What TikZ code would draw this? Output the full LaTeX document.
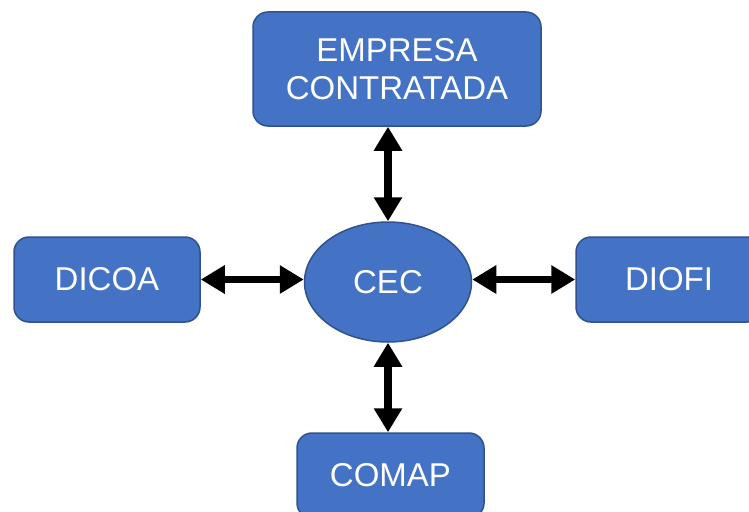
\documentclass[tikz,border=0pt]{standalone}
\usepackage{fontspec}
\setmainfont{Liberation Sans}
\usepackage{tikz}
\usetikzlibrary{shapes.geometric,arrows.meta}
\definecolor{bleu}{HTML}{4472C4}
\definecolor{bord}{HTML}{2F528F}

\begin{document}
\begin{tikzpicture}[x=1pt,y=1pt,
    boite/.style={draw=bord,line width=1.5pt,fill=bleu,rounded corners=15pt,
      text=white,align=center,inner sep=0pt,
      font=\fontsize{33}{38}\selectfont},
    fleche/.style={line width=7.5pt,{Triangle[length=24pt,width=27pt]}-{Triangle[length=24pt,width=27pt]}}]
  \useasboundingbox (0,0) rectangle (749,-511);

  % Centre.
  \node[boite,ellipse,rounded corners=0pt,minimum width=167pt,minimum height=120pt]
    (cec) at (388,-282) {CEC};
  % Haut.
  \node[boite,minimum width=288pt,minimum height=114pt] (emp) at (397,-69)
    {EMPRESA\\CONTRATADA};
  % Gauche.
  \node[boite,minimum width=186pt,minimum height=85pt] (dicoa) at (107,-279.5) {DICOA};
  % Droite.
  \node[boite,minimum width=186pt,minimum height=85pt] (diofi) at (669,-279.5) {DIOFI};
  % Bas.
  \node[boite,minimum width=187pt,minimum height=85pt] (comap) at (390.5,-475.5) {COMAP};

  % Fleches.
  \draw[fleche] (cec.north) -- (cec.north |- emp.south);
  \draw[fleche] (cec.south) -- (cec.south |- comap.north);
  \draw[fleche] (dicoa.east) -- (dicoa.east -| cec.west);
  \draw[fleche] (cec.east |- diofi.west) -- (diofi.west);
\end{tikzpicture}
\end{document}
